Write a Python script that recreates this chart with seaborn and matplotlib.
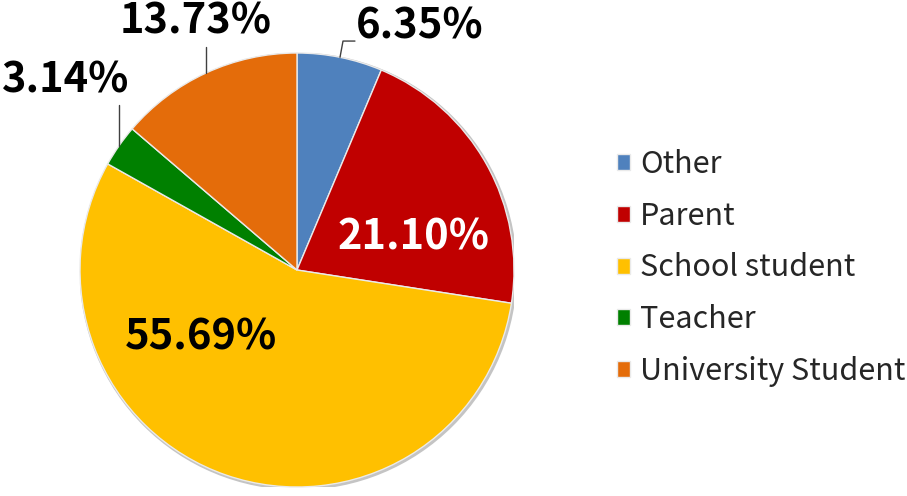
import numpy as np
import matplotlib
matplotlib.use("Agg")
import matplotlib.pyplot as plt
import seaborn as sns

# data
categories = ["Other", "Parent", "School student", "Teacher", "University Student"]
shares = [6.35, 21.10, 55.69, 3.14, 13.73]
colors = ["#4F81BD", "#C00000", "#FFC000", "#008000", "#E46C0A"]

sns.set_theme(style="white")
plt.rcParams["font.family"] = ["Noto Sans CJK SC", "DejaVu Sans"]

fig = plt.figure(figsize=(9.07, 4.96), dpi=100)
ax = fig.add_axes([80 / 907, 9 / 496, 434 / 907, 434 / 496])

# soft grey rim behind the pie
ax.add_patch(plt.Circle((0.006, -0.006), 1.0, facecolor="none",
                        edgecolor="#c4c4c4", linewidth=2.5, zorder=0))

wedges, _ = ax.pie(
    shares,
    colors=sns.color_palette(colors),
    startangle=90,
    counterclock=False,
    radius=1.0,
    wedgeprops=dict(edgecolor="#eaeaea", linewidth=1.0),
)
ax.set_xlim(-1, 1)
ax.set_ylim(-1, 1)
ax.set_aspect("equal")
ax.axis("off")

# label layout: (x, y) of text centre, text colour, leader points or None
label_layout = [
    ((0.567, 1.124), "black", [(0.212, 1.055), (0.267, 1.055)]),
    ((0.535, 0.150), "white", None),
    ((-0.442, -0.313), "black", None),
    ((-1.065, 0.871), "black", [(None, 0.760)]),
    ((-0.465, 1.147), "black", [(None, 1.028)]),
]

total = sum(shares)
cum = 0.0
for val, (pos, col, leader) in zip(shares, label_layout):
    mid = 90 - 360 * (cum + val / 2) / total
    cum += val
    ax.text(pos[0], pos[1], f"{val:.2f}%", ha="center", va="center",
            fontsize=30, fontweight="bold", color=col, clip_on=False)
    if leader:
        ex, ey = np.cos(np.radians(mid)), np.sin(np.radians(mid))
        xs, ys = [ex], [ey]
        for lx, ly in leader:
            xs.append(ex if lx is None else lx)
            ys.append(ly)
        ax.plot(xs, ys, color="#404040", linewidth=1.0, clip_on=False)

fig.legend(
    wedges, categories,
    loc="center left",
    bbox_to_anchor=(617 / 907, 1 - 268 / 496),
    frameon=False,
    fontsize=22,
    borderpad=0,
    borderaxespad=0,
    handlelength=0.43,
    handleheight=0.43,
    handletextpad=0.33,
    labelspacing=0.68,
)

fig.savefig("out.png", dpi=100)
